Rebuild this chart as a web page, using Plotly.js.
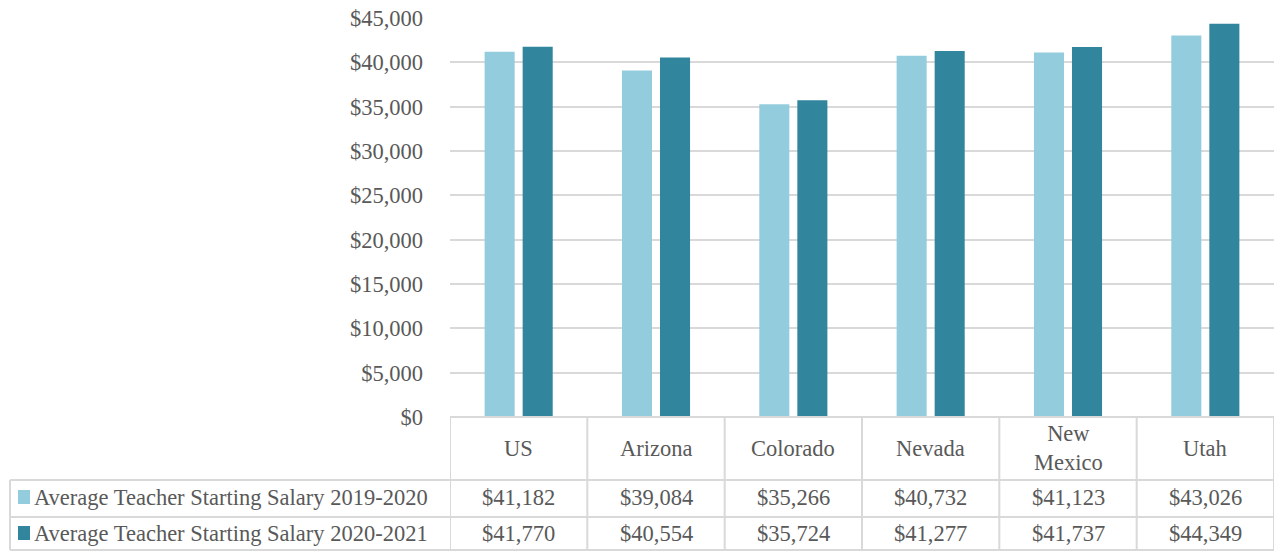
<!DOCTYPE html>
<html><head><meta charset="utf-8">
<script src="https://cdn.plot.ly/plotly-3.0.1.min.js"></script>
<style>html,body{margin:0;padding:0;background:#fff}#chart{width:1276px;height:552px}</style>
</head><body><div id="chart"></div>
<script>
const categories = ["US", "Arizona", "Colorado", "Nevada", "New Mexico", "Utah"];
const categoryLabels = ["US", "Arizona", "Colorado", "Nevada", "New<br>Mexico", "Utah"];
const seriesNames = ["Average Teacher Starting Salary 2019-2020", "Average Teacher Starting Salary 2020-2021"];
const salary2019 = [41182, 39084, 35266, 40732, 41123, 43026];
const salary2020 = [41770, 40554, 35724, 41277, 41737, 44349];
const yTicks = [0, 5000, 10000, 15000, 20000, 25000, 30000, 35000, 40000, 45000];

const colors = ["#93CDDD", "#31859C"];
const txt = "#595959";
const grid = "#D9D9D9";
const FONT = "'Liberation Serif', 'Times New Roman', serif";
const FS = 22.5;
const fmt = v => "$" + v.toLocaleString("en-US");

const idx = categories.map((c, i) => i);
const traces = [salary2019, salary2020].map((vals, k) => ({
  type: "bar", x: idx, y: vals, name: seriesNames[k],
  marker: {color: colors[k]}, hoverinfo: "skip"
}));

const H = 399;
const py = px => -px / H;
const rowTop = [0, py(63), py(100), py(133)];
const rowMid = [py(31), py(80), py(116)];
const leftPaper = -440 / 824;

const shapes = [];
const annotations = [];
const n = categories.length;
shapes.push({type: "line", xref: "x", yref: "paper", x0: -0.5, x1: n - 0.5, y0: 0, y1: 0, line: {color: grid, width: 2}});
for (let r = 1; r < 4; r++) {
  shapes.push({type: "line", xref: "paper", yref: "paper", x0: leftPaper, x1: 1, y0: rowTop[r], y1: rowTop[r], line: {color: grid, width: 2}});
}
for (let i = 0; i <= n; i++) {
  shapes.push({type: "line", xref: "x", yref: "paper", x0: i - 0.5, x1: i - 0.5, y0: 0, y1: rowTop[3], line: {color: grid, width: 2}});
}
shapes.push({type: "line", xref: "paper", yref: "paper", x0: leftPaper, x1: leftPaper, y0: rowTop[1], y1: rowTop[3], line: {color: grid, width: 2}});

categoryLabels.forEach((c, i) => {
  annotations.push({xref: "x", yref: "paper", x: i, y: rowMid[0], text: c, showarrow: false, font: {family: FONT, size: FS, color: txt}, yanchor: "middle"});
});
[salary2019, salary2020].forEach((vals, k) => {
  vals.forEach((v, i) => {
    annotations.push({xref: "x", yref: "paper", x: i, y: rowMid[k + 1], text: fmt(v), showarrow: false, font: {family: FONT, size: FS, color: txt}, yanchor: "middle"});
  });
  const keyX = (18 - 450) / 824;
  const keyW = 12 / 824;
  shapes.push({type: "rect", xref: "paper", yref: "paper", x0: keyX, x1: keyX + keyW, y0: rowMid[k + 1] - 7 / H, y1: rowMid[k + 1] + 7 / H, fillcolor: colors[k], line: {width: 0}});
  annotations.push({xref: "paper", yref: "paper", x: (32 - 450) / 824, y: rowMid[k + 1], text: seriesNames[k], showarrow: false, xanchor: "left", yanchor: "middle", font: {family: FONT, size: FS, color: txt}});
});

const layout = {
  width: 1276, height: 552,
  margin: {l: 450, r: 2, t: 18, b: 135, pad: 0},
  paper_bgcolor: "#fff", plot_bgcolor: "#fff",
  barmode: "group", bargap: 0.446, bargroupgap: 0.21,
  showlegend: false,
  xaxis: {range: [-0.5, n - 0.5], showticklabels: false, showgrid: false, zeroline: false, ticks: "", fixedrange: true},
  yaxis: {range: [0, 45000], tickvals: yTicks, ticktext: yTicks.map(fmt), showgrid: true, gridcolor: grid, gridwidth: 2, zeroline: false, ticks: "", ticklabelstandoff: 26,
    tickfont: {family: FONT, size: FS, color: txt}},
  shapes: shapes, annotations: annotations
};
Plotly.newPlot("chart", traces, layout, {staticPlot: true});
</script></body></html>
